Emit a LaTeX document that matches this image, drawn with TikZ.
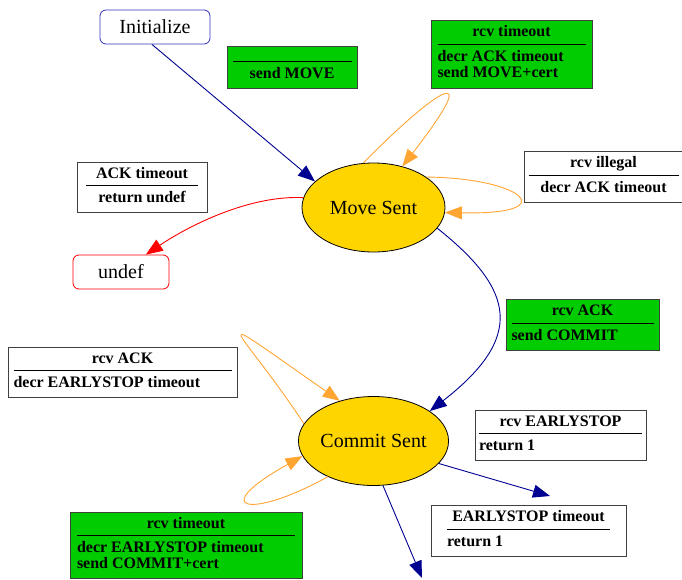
\documentclass[tikz,border=0pt]{standalone}
\usepackage{fontspec}
\setmainfont{Liberation Serif}
\usetikzlibrary{shapes.geometric,arrows.meta}
\definecolor{navy}{RGB}{0,0,145}
\definecolor{gold}{RGB}{255,213,0}
\definecolor{leaf}{RGB}{0,204,0}
\definecolor{amber}{RGB}{255,165,50}
\definecolor{slate}{RGB}{50,50,190}
\renewcommand{\arraystretch}{0}
\newcommand{\hd}{\rule[-7pt]{0pt}{18pt}}
\newcommand{\trans}[4][\raggedright]{%
\begin{tabular}{@{}p{#2}@{}}
\centering\hd#3\tabularnewline\hline
#1\rule{0pt}{17pt}#4\rule[-5pt]{0pt}{5pt}\tabularnewline
\end{tabular}}

\begin{document}
\begin{tikzpicture}[x=1pt,y=-1pt,
phase/.style={%
ellipse,
draw,
fill=gold,
minimum width=143pt,
minimum height=89pt,
inner sep=0pt,
line width=0.8pt,
font=\fontsize{20}{24}\selectfont
},
term/.style={%
draw,
rounded corners=6pt,
minimum width=110pt,
minimum height=34pt,
line width=0.8pt,
font=\fontsize{20}{24}\selectfont
},
note/.style={%
draw=black!75,
fill=white,
inner xsep=4pt,
inner ysep=5pt,
line width=0.8pt,
font=\bfseries\fontsize{16}{16}\selectfont
},
act/.style={%
note,
fill=leaf,
},
flow/.style={draw=navy,line width=0.9pt,-{Triangle[length=17pt,width=13pt]}},
fail/.style={flow,draw=red},
again/.style={flow,draw=amber},
]
\useasboundingbox(0,0)rectangle(682,579);
%% states
\node[term,draw=slate]at(155,27)(init){Initialize};
\node[phase]at(373.5,207.5)(ms){Move Sent};
\node[term,draw=red,minimum width=96pt]at(121,272)(undef){undef};
\node[phase]at(373.5,441)(cs){Commit Sent};
\coordinate(x1)at(550,496);
\coordinate(x2)at(422,578);
%% labels
\node[act,minimum width=130pt]at(292,67.5)(l1){\renewcommand{\hd}{\rule[-5pt]{0pt}{9pt}}\trans[\centering]{119pt}{}{send MOVE}};
\node[act,minimum width=161pt,minimum height=68pt]at(511.5,54)(l2){\trans{148pt}{rcv timeout}{decr ACK timeout\\send MOVE+cert}};
\node[note,minimum width=155pt]at(603.5,177)(l3){\trans[\centering]{150pt}{rcv illegal}{decr ACK timeout}};
\node[note,minimum width=130pt]at(142,187.5)(l4){\trans[\centering]{112pt}{ACK timeout}{return undef}};
\node[act,minimum width=153pt]at(582.5,325)(l5){\trans{142pt}{rcv ACK}{send COMMIT}};
\node[note,minimum width=229pt]at(122.5,372.5)(l6){\trans{218pt}{rcv ACK}{decr EARLYSTOP timeout}};
\node[act,minimum width=232pt]at(186,545.5)(l7){\trans{218pt}{rcv timeout}{decr EARLYSTOP timeout\\send COMMIT+cert}};
\node[note,minimum width=171pt]at(560.5,435.5)(l8){\trans{163pt}{rcv EARLYSTOP}{return 1}};
\node[note,minimum width=195pt]at(528.5,531)(l9){\trans{163pt}{EARLYSTOP timeout}{return 1}\hspace{24pt}};
%% edges
\draw[flow](init.260)--(ms.156);
\draw[fail](ms.172)..controls(250,195)and(190,225)..(undef.35);
\draw[again](ms.103)..controls(440,85)and(485,60)..(ms.55);
\draw[again](ms.30)..controls(523,178)and(565,215)..(ms.-4);
\draw[flow](ms.-18)..controls(515,290)and(525,337)..(cs.28);
\draw[again](cs.166)..controls(238,324)and(195,300)..(cs.130);
\draw[again](cs.218)..controls(250,520)and(206,510)..(cs.192);
\draw[flow](cs.-19)--(x1);
\draw[flow](cs.-78)--(x2);
\end{tikzpicture}
\end{document}
